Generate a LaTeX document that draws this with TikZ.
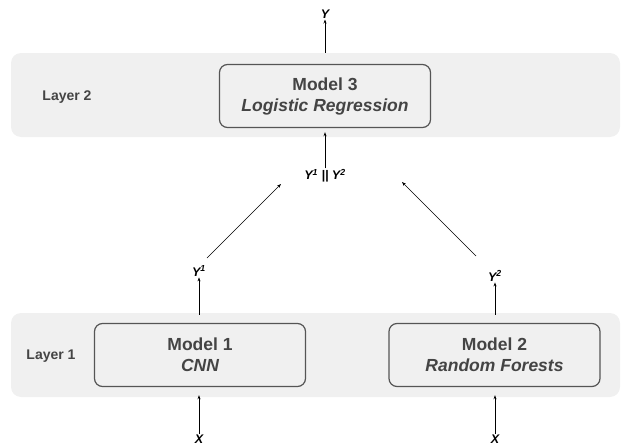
\documentclass[tikz,border=0pt]{standalone}
\usepackage{fontspec}
\setmainfont{Liberation Sans}
\usetikzlibrary{arrows.meta}
\definecolor{bandgray}{HTML}{F0F0F0}
\definecolor{boxline}{HTML}{555555}
\definecolor{txtgray}{HTML}{444444}
\begin{document}
\begin{tikzpicture}[x=1pt,y=-1pt,
  band/.style={fill=bandgray,draw=none,rounded corners=10pt},
  modelbox/.style={draw=boxline,fill=bandgray,line width=1.2pt,rounded corners=8pt,
    minimum width=211pt,minimum height=63pt,align=center,text=txtgray,
    font=\fontsize{17.5}{20}\selectfont\bfseries,inner sep=0pt},
  layerlbl/.style={text=txtgray,font=\fontsize{14}{16}\selectfont\bfseries},
  varlbl/.style={text=black,font=\fontsize{12.5}{14}\selectfont\bfseries\itshape,inner sep=1pt},
  arr/.style={-{Stealth[length=4pt,width=3pt]},line width=0.7pt,black}]
\useasboundingbox (0,0) rectangle (622,447);
% bands
\node[band,minimum width=609pt,minimum height=84pt,inner sep=0pt] (band2) at (315.5,95) {};
\node[band,minimum width=609pt,minimum height=84pt,inner sep=0pt] (band1) at (315.5,355) {};
% layer labels
\node[layerlbl] (l2) at (67,97) {Layer 2};
\node[layerlbl] (l1) at (51,356) {Layer 1};
% models
\node[modelbox] (m3) at (325,96) {Model 3\\[1pt]\itshape Logistic Regression};
\node[modelbox] (m1) at (200,355) {Model 1\\[1pt]\itshape CNN};
\node[modelbox] (m2) at (494.5,355) {Model 2\\[1pt]\itshape Random Forests};
% variable labels
\node[varlbl] (y) at (325,14) {Y};
\node[varlbl] (y12) at (325,176) {Y\textsuperscript{1} || Y\textsuperscript{2}};
\node[varlbl] (y1) at (199,271) {Y\textsuperscript{1}};
\node[varlbl] (y2) at (495,276) {Y\textsuperscript{2}};
\node[varlbl] (x1) at (199,439) {X};
\node[varlbl] (x2) at (495,439) {X};
% diagonal endpoints
\coordinate (d1s) at (207,258);
\coordinate (d1e) at (281,184);
\coordinate (d2s) at (476,256);
\coordinate (d2e) at (402,182);
% arrows
\draw[arr] (band2.north -| m3) -- (y.south);
\draw[arr] (y12.north) -- ([yshift=5pt]band2.south -| m3);
\draw[arr] (d1s) -- (d1e);
\draw[arr] (d2s) -- (d2e);
\draw[arr] ([yshift=-2pt]band1.north -| y1) -- (y1.south);
\draw[arr] ([yshift=-2pt]band1.north -| y2) -- (y2.south);
\draw[arr] (x1.north) -- ([yshift=2pt]band1.south -| x1);
\draw[arr] (x2.north) -- ([yshift=2pt]band1.south -| x2);
\end{tikzpicture}
\end{document}
